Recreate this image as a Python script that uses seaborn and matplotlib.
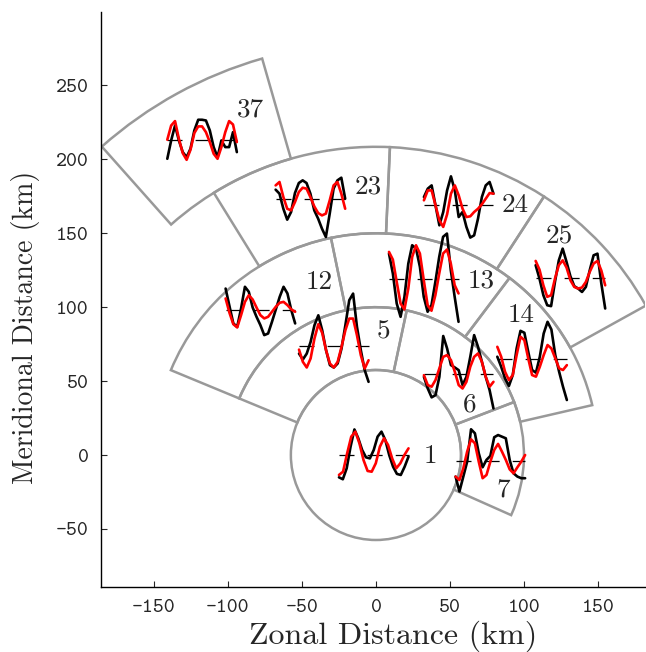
import os
import matplotlib
matplotlib.use("Agg")
import matplotlib.pyplot as plt
from matplotlib import font_manager
from matplotlib.patches import Wedge, Circle
import numpy as np
import seaborn as sns

sns.set_style("ticks")

# Computer Modern fonts shipped with matplotlib
ttf_dir = os.path.join(matplotlib.get_data_path(), "fonts", "ttf")
for name in ["cmr10.ttf", "cmtt10.ttf"]:
    font_manager.fontManager.addfont(os.path.join(ttf_dir, name))
# typewriter face for tick labels, roman face given explicitly to other text
plt.rcParams["font.family"] = ["cmtt10", "DejaVu Sans Mono"]
plt.rcParams["axes.unicode_minus"] = False
roman = ["cmr10", "DejaVu Serif"]

# Sector outlines (km, degrees)
sector_ids = [1, 5, 6, 7, 12, 13, 14, 23, 24, 25, 37]
r_inner = [0, 57.5, 57.5, 57.5, 100, 100, 100, 150, 150, 150, 208.5]
r_outer = [57.5, 100, 100, 100, 150, 150, 150, 208.5, 208.5, 208.5, 279]
theta_start = [0, 78, 21, -24, 101.7, 53, 13, 87.4, 57, 29, 106]
theta_end = [360, 157.5, 78, 21, 157.5, 101.7, 53, 121.7, 87.4, 57, 131.6]

# Label positions for sector numbers (km)
label_x = [37.0, 4.9, 63.3, 85.9, -38.5, 71.4, 98.4, -5.4, 94.4, 123.6, -84.5]
label_y = [-0.7, 83.3, 33.8, -23.6, 117.1, 118.2, 94.6, 181.8, 168.9, 148.6, 233.8]

# Where each small time series sits (start x, mean level y) and its width
series_x0 = [-25.0, -52.0, 32.4, 53.8, -101.6, 8.8, 82.0, -67.8, 32.4, 107.9, -141.0]
series_y0 = [0.0, 73.6, 54.5, -3.8, 98.0, 119.4, 64.9, 173.4, 168.9, 119.8, 212.8]
series_width = 47.0

# Observed (black) and modelled (red) anomalies, plotted in km about the mean
obs_1 = [-15.1, -16.4, -9.0, 5.6, 17.3, 11.3, 3.4, -1.6, -2.3, 3.4, 12.4, 15.8, 10.1, 0.0, -7.9, -12.8, -13.5, -7.9, -1.1]
mod_1 = [-13.5, -11.3, 1.1, 12.4, 15.8, 7.9, -3.4, -10.8, -11.3, -5.6, 5.6, 11.3, 6.8, -2.3, -9.0, -5.6, 0.0, 4.5]
obs_5 = [-5.0, -9.0, -5.0, 2.9, 14.2, 20.9, 10.8, -2.7, -12.8, -14.4, -11.7, -1.6, 14.2, 31.1, 35.6, 13.1, -2.7, -16.2, -24.1]
mod_5 = [-2.3, -10.6, -14.4, -8.3, 5.2, 14.9, 9.0, -2.7, -11.7, -14.4, -10.6, -0.5, 10.8, 18.7, 18.7, 7.4, -6.1, -15.1, -9.5]
obs_6 = [-1.6, -9.5, -15.5, -14.0, -1.6, 26.0, 17.6, 6.3, 4.7, 2.9, -7.2, -1.6, 11.9, 26.6, 18.7, 8.6, -1.6, -10.6, -23.0]
mod_6 = [-0.5, -7.2, -8.3, -3.8, 4.1, 11.9, 13.1, 9.7, 1.8, -7.2, -9.5, -5.0, 5.2, 11.9, 14.2, 8.6, -1.6, -8.3, -5.0]
obs_7 = [-10.8, -20.9, -10.8, -0.7, 21.2, 18.5, 5.0, -4.5, 0.5, 3.2, 15.8, 17.3, 16.2, 15.1, 0.5, -8.6, -10.8, -11.9, -11.9]
mod_7 = [-10.8, -13.1, -5.2, 6.1, 14.4, 11.7, -0.7, -11.9, -9.7, -0.7, 7.2, 11.3, 6.1, 0.5, -5.9, -8.6, -4.5, -0.7, 3.8]
obs_12 = [14.6, 2.7, -9.0, -11.3, 1.1, 15.8, 12.4, 1.8, -4.5, -10.1, -16.9, -15.8, -7.9, 0.5, 9.0, 15.8, 11.3, 0.0, -9.0]
mod_12 = [7.9, -1.8, -9.5, -11.7, -3.4, 5.6, 10.1, 7.2, 1.8, -3.4, -5.6, -4.5, -1.1, 2.3, 5.0, 5.6, 3.4, 0.5, -1.1]
obs_13 = [16.9, 3.4, -16.9, -25.9, -12.4, 10.1, 22.5, 20.3, 7.9, -12.4, -22.5, -18.0, -2.3, 14.6, 28.2, 30.4, 5.6, -12.4, -29.3]
mod_13 = [18.0, 12.8, -2.3, -16.9, -20.9, -6.8, 14.6, 22.5, 16.9, -1.1, -18.0, -21.8, -11.3, 3.4, 16.9, 19.6, 10.1, -4.5, -10.1]
obs_14 = [1.6, -5.2, -13.1, -18.2, -10.8, 7.2, 19.1, 17.8, 5.0, -7.4, -9.2, 1.6, 17.3, 25.2, 20.0, 2.7, -8.6, -18.7, -27.7]
mod_14 = [8.3, 1.6, -8.6, -14.2, -10.8, 2.7, 15.1, 12.8, 0.5, -10.8, -11.9, -5.2, 2.7, 9.5, 7.2, 0.5, -6.3, -7.4, -4.1]
obs_23 = [6.1, 3.4, -6.8, -14.2, -9.0, 3.8, 10.6, 12.4, 10.6, 3.4, -7.9, -13.5, -20.3, -25.9, -10.1, 6.8, 12.4, 14.2, 0.0]
mod_23 = [9.0, 11.3, 1.1, -6.8, -7.9, -2.3, 4.5, 7.4, 6.8, 1.1, -5.2, -9.7, -11.3, -10.1, -1.1, 9.0, 11.3, 3.4, -6.8]
obs_24 = [5.6, 11.3, 13.5, 0.0, -13.5, -4.5, 10.1, 19.6, 10.1, -7.9, -4.5, -14.6, -21.8, -20.3, -9.0, 5.6, 13.5, 15.8, 7.9]
mod_24 = [3.4, 10.1, 10.1, 0.0, -10.1, -14.6, -6.1, 7.9, 13.5, 6.8, -2.3, -7.9, -7.4, -4.5, -2.3, 0.7, 4.5, 8.3, 7.9]
obs_25 = [8.6, -0.5, -11.7, -18.5, -19.1, -2.7, 11.9, 19.8, 10.8, 1.1, -5.6, -7.2, -9.5, -6.1, 5.2, 15.3, 16.4, -3.8, -20.7]
mod_25 = [11.5, 5.6, -5.0, -12.8, -11.7, -0.5, 8.6, 11.9, 7.0, -1.6, -6.1, -7.2, -6.5, -2.7, 4.1, 9.7, 11.5, 5.0, -5.0]
obs_37 = [-12.4, 0.0, 10.1, 0.0, -7.9, -11.3, -5.6, 6.8, 14.0, 14.0, 13.5, 6.8, -4.5, -11.3, 0.0, -4.5, -4.5, 5.6, -7.9]
mod_37 = [0.5, 10.1, 13.1, 1.1, -8.6, -13.1, -6.3, 5.0, 9.5, 9.5, 5.6, -1.1, -9.0, -12.4, -4.5, 5.6, 13.1, 10.8, -1.1]

obs_series = [obs_1, obs_5, obs_6, obs_7, obs_12, obs_13, obs_14, obs_23, obs_24, obs_25, obs_37]
mod_series = [mod_1, mod_5, mod_6, mod_7, mod_12, mod_13, mod_14, mod_23, mod_24, mod_25, mod_37]

xticks = [-150, -100, -50, 0, 50, 100, 150]
yticks = [-50, 0, 50, 100, 150, 200, 250]

fig = plt.figure(figsize=(6.46, 6.52), dpi=100)
ax = fig.add_axes([101 / 646, 65 / 652, 544 / 646, 575 / 652])

grey = "#999999"
for i, sid in enumerate(sector_ids):
    if sid == 1:
        patch = Circle((0, 0), r_outer[i], fill=False, ec=grey, lw=1.8, zorder=1)
    else:
        patch = Wedge((0, 0), r_outer[i], theta_start[i], theta_end[i],
                      width=r_outer[i] - r_inner[i], fill=False, ec=grey, lw=1.8, zorder=1)
    ax.add_patch(patch)

for i, sid in enumerate(sector_ids):
    x0, y0 = series_x0[i], series_y0[i]
    ax.plot([x0, x0 + series_width], [y0, y0], color="black", lw=0.9,
            dashes=(12, 10.5), zorder=2)
    xo = np.linspace(x0, x0 + series_width, len(obs_series[i]))
    xm = np.linspace(x0, x0 + series_width, len(mod_series[i]))
    sns.lineplot(x=xo, y=np.array(obs_series[i]) + y0, ax=ax, color="black",
                 lw=1.9, estimator=None, sort=False, zorder=3)
    sns.lineplot(x=xm, y=np.array(mod_series[i]) + y0, ax=ax, color="red",
                 lw=1.9, estimator=None, sort=False, zorder=4)
    ax.text(label_x[i], label_y[i], str(sid), ha="center", va="center",
            fontsize=19.5, family=roman, zorder=5)

ax.set_xlim(-185.8, 181.8)
ax.set_ylim(-89.3, 299.7)
ax.set_xticks(xticks)
ax.set_yticks(yticks)
sns.despine(ax=ax)
for side in ["left", "bottom"]:
    ax.spines[side].set_linewidth(1.0)
    ax.spines[side].set_color("black")
ax.tick_params(direction="in", length=4.5, width=0.8, labelsize=15, pad=9)

ax.set_xlabel("Zonal Distance (km)", fontsize=23, family=roman)
ax.set_ylabel("Meridional Distance (km)", fontsize=20, family=roman)
ax.xaxis.set_label_coords((393 - 101) / 544, -(636 - 587) / 575)
ax.yaxis.set_label_coords(-(101 - 26) / 544, (587 - 327) / 575)
ax.xaxis.label.set_va("center")
ax.yaxis.label.set_va("center")

plt.savefig("out.png", dpi=100)
plt.close()
